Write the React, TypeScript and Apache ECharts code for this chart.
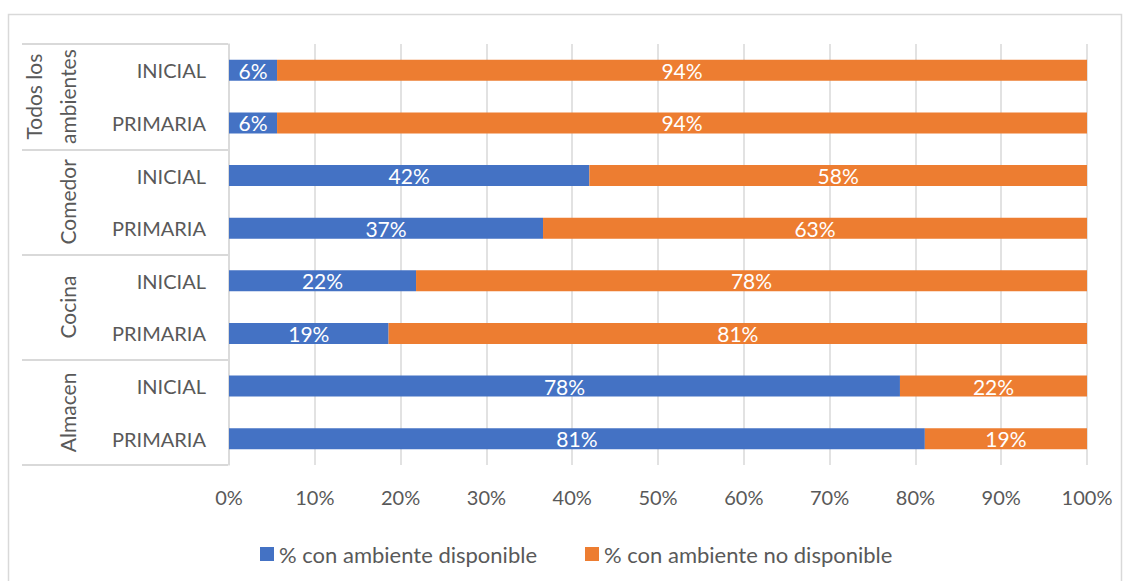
import React, { useEffect, useRef } from "react";
import * as echarts from "echarts";

const groups = ["Todos los\nambientes", "Comedor", "Cocina", "Almacen"];
const levels = ["INICIAL", "PRIMARIA", "INICIAL", "PRIMARIA", "INICIAL", "PRIMARIA", "INICIAL", "PRIMARIA"];
const disponible = [5.6, 5.6, 42.0, 36.6, 21.8, 18.6, 78.2, 81.1];
const noDisponible = [94.4, 94.4, 58.0, 63.4, 78.2, 81.4, 21.8, 18.9];
const xTicks = [0, 10, 20, 30, 40, 50, 60, 70, 80, 90, 100];
const seriesNames = ["% con ambiente disponible", "% con ambiente no disponible"];

const FONT = "Lato";
const GREY = "#595959";
const LINE = "#d9d9d9";

export default function App() {
  const ref = useRef<HTMLDivElement>(null);
  useEffect(() => {
    if (!ref.current) return;
    const chart = echarts.init(ref.current, null, { renderer: "svg" });
    const catKeys = levels.map((l, i) => `${i}|${l}`);
    const lbl = {
      show: true,
      position: "inside",
      color: "#ffffff",
      fontFamily: FONT,
      fontSize: 21,
      formatter: (p: any) => `${Math.round(p.value)}%`,
    };
    chart.setOption({
      animation: false,
      textStyle: { fontFamily: FONT },
      grid: { left: 229, right: 44, top: 44, bottom: 116 },
      xAxis: {
        type: "value",
        min: xTicks[0],
        max: xTicks[xTicks.length - 1],
        interval: 10,
        axisLine: { show: false },
        axisTick: { show: false },
        splitLine: { show: true, lineStyle: { color: LINE, width: 1.5 } },
        axisLabel: { color: GREY, fontFamily: FONT, fontSize: 20, margin: 22, formatter: "{value}%" },
      },
      yAxis: [
        {
          type: "category",
          data: catKeys,
          inverse: true,
          position: "left",
          axisLine: { show: true, lineStyle: { color: LINE, width: 1.5 } },
          axisTick: { show: false },
          axisLabel: {
            interval: 0,
            color: GREY,
            fontFamily: FONT,
            fontSize: 20,
            margin: 23,
            formatter: (v: string) => v.split("|")[1],
          },
        },
        {
          type: "category",
          data: groups,
          inverse: true,
          position: "left",
          offset: 207,
          axisLine: { show: false },
          axisTick: { show: true, interval: 0, inside: true, length: 206, lineStyle: { color: LINE, width: 2 } },
          axisLabel: {
            interval: 0,
            inside: true,
            rotate: 90,
            margin: 62,
            align: "center",
            verticalAlign: "bottom",
            color: GREY,
            fontFamily: FONT,
            fontSize: 21,
            lineHeight: 34,
          },
        },
      ],
      legend: {
        left: 255,
        top: 538,
        icon: "rect",
        itemWidth: 14,
        itemHeight: 14,
        itemGap: 48,
        textStyle: { color: GREY, fontFamily: FONT, fontSize: 22 },
        data: seriesNames,
      },
      graphic: [
        {
          type: "rect",
          shape: { x: 8.5, y: 14.5, width: 1113, height: 600 },
          style: { fill: "none", stroke: LINE, lineWidth: 1.5 },
          silent: true,
        },
      ],
      series: [
        {
          name: seriesNames[0],
          type: "bar",
          stack: "t",
          yAxisIndex: 0,
          barWidth: 21,
          itemStyle: { color: "#4472c4" },
          label: lbl,
          data: disponible,
        },
        {
          name: seriesNames[1],
          type: "bar",
          stack: "t",
          yAxisIndex: 0,
          barWidth: 21,
          itemStyle: { color: "#ed7d31" },
          label: lbl,
          data: noDisponible,
        },
      ],
    });
    return () => chart.dispose();
  }, []);
  return (
    <div
      ref={ref}
      style={{ position: "absolute", left: 0, top: 0, width: 1131, height: 581, background: "#ffffff" }}
    />
  );
}
